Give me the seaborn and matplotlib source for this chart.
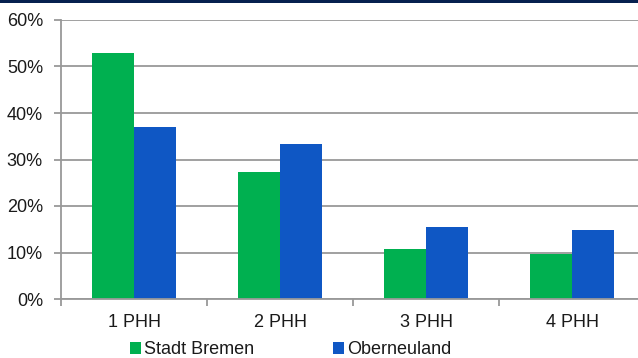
import matplotlib
matplotlib.use("Agg")
import matplotlib.pyplot as plt
from matplotlib.patches import Rectangle, Patch
from matplotlib.ticker import PercentFormatter, FixedLocator
import seaborn as sns
import pandas as pd

# Household size distribution (share of households)
categories = ["1 PHH", "2 PHH", "3 PHH", "4 PHH"]
series_names = ["Stadt Bremen", "Oberneuland"]
stadt_bremen = [52.8, 27.4, 10.7, 9.6]
oberneuland = [36.9, 33.4, 15.4, 14.8]
colors = ["#00B050", "#0F57C4"]

df = pd.DataFrame({
    "Kategorie": categories * 2,
    "Gebiet": [series_names[0]] * 4 + [series_names[1]] * 4,
    "Anteil": stadt_bremen + oberneuland,
})

sns.set_theme(style="white")
plt.rcParams["font.family"] = ["Liberation Sans", "DejaVu Sans"]

W, H = 638, 358
fig = plt.figure(figsize=(W / 100, H / 100), dpi=100)

# axes frame: left edge at x=61px, 0% at y=299px, 60% at y=20px
left, right, top, bottom = 61, 645, 20, 299
ax = fig.add_axes([left / W, 1 - bottom / H, (right - left) / W, (bottom - top) / H])

grid_color = "#999999"
ax.set_axisbelow(True)
ax.yaxis.grid(True, color=grid_color, linewidth=1.3)
ax.xaxis.grid(False)

sns.barplot(data=df, x="Kategorie", y="Anteil", hue="Gebiet",
            palette=colors, width=0.58, ax=ax, legend=False,
            saturation=1, linewidth=0)

ax.set_ylim(0, 60)
ax.set_xlim(-0.5, 3.5)
ax.set_yticks(range(0, 61, 10))
ax.yaxis.set_major_formatter(PercentFormatter(decimals=0))
ax.set_xlabel("")
ax.set_ylabel("")

for side in ["top", "right"]:
    ax.spines[side].set_visible(False)
for side in ["left", "bottom"]:
    ax.spines[side].set_color(grid_color)
    ax.spines[side].set_linewidth(1.3)

ax.tick_params(axis="y", which="major", left=True, length=5, width=1.3,
               color=grid_color, labelsize=13, labelcolor="#1a1a1a", pad=8)
ax.tick_params(axis="x", which="major", bottom=False, length=0,
               labelsize=13, labelcolor="#1a1a1a", pad=11)
ax.xaxis.set_minor_locator(FixedLocator([-0.5, 0.5, 1.5, 2.5, 3.5]))
ax.tick_params(axis="x", which="minor", bottom=True, length=5, width=1.3,
               color=grid_color)

# legend below the plot
handles = [Patch(facecolor=c, edgecolor="none") for c in colors]
fig.legend(handles, series_names, loc="center left",
           bbox_to_anchor=(130 / W, 1 - 350 / H), ncol=2, frameon=False,
           fontsize=13, handlelength=0.6, handleheight=0.6,
           handletextpad=0.15, columnspacing=4.4, borderpad=0,
           borderaxespad=0, labelcolor="#1a1a1a")

# dark header strip along the top edge
fig.patches.append(Rectangle((0, 1 - 3 / H), 1, 3 / H, transform=fig.transFigure,
                             facecolor="#06204f", edgecolor="none", zorder=10))

fig.savefig("out.png", dpi=100)
